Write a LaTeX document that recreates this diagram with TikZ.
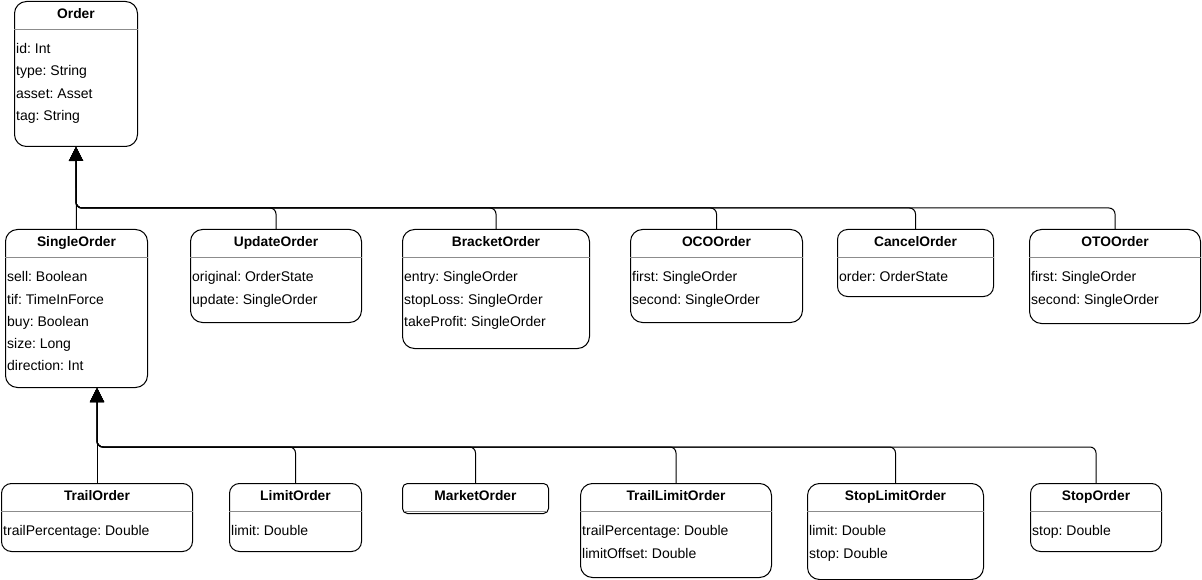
\documentclass[tikz,border=0pt]{standalone}
\usepackage{fontspec}
\setmainfont{Liberation Sans}
\frenchspacing
\usetikzlibrary{arrows.meta, positioning}
\tikzstyle{classbox} = [rectangle, rounded corners=12pt, draw=black, line width=1pt, anchor=north west, inner sep=0pt, fill=white]
\tikzstyle{classtitle} = [anchor=base, inner sep=0pt, font=\bfseries\fontsize{13.8}{16}\selectfont]
\tikzstyle{attr} = [anchor=base west, inner sep=0pt, font=\fontsize{14}{16}\selectfont]
\tikzstyle{divider} = [draw=black!45, line width=0.8pt]
\tikzstyle{inherit} = [line width=1pt, rounded corners=6pt, -{Triangle[length=14pt,width=14pt]}]
% title and divider of a class box
\newcommand{\classhead}[2]{%
  \node (#1-title) [classtitle] at ([yshift=-17.7pt]#1.north) {#2};
  \draw [divider] ([yshift=-28pt]#1.north west) -- ([yshift=-28pt]#1.north east);
}
% attribute lines of a class box
\newcommand{\classattrs}[2]{%
  \foreach \attrtext [count=\k] in {#2}
    \node (#1-\k) [attr] at ([xshift=2pt, yshift={-52.7pt-22.3pt*(\k-1)}]#1.north west) {\attrtext};
}

\begin{document}
\begin{tikzpicture}[x=1pt, y=-1pt]
  \fill[white] (0,0) rectangle (1202,580);
  \useasboundingbox (0,0) rectangle (1202,580);
  % base class
    \node (order) [classbox, minimum width=123pt, minimum height=145pt] at (14,1) {};
    \classhead{order}{Order}
    \classattrs{order}{id: Int, type: String, asset: Asset, tag: String}
  % first level
    \node (single) [classbox, minimum width=142pt, minimum height=158pt] at (5,229) {};
    \classhead{single}{SingleOrder}
    \classattrs{single}{sell: Boolean, tif: TimeInForce, buy: Boolean, size: Long, direction: Int}
    \node (update) [classbox, minimum width=171pt, minimum height=93pt] at (190,229) {};
    \classhead{update}{UpdateOrder}
    \classattrs{update}{original: OrderState, update: SingleOrder}
    \node (bracket) [classbox, minimum width=187pt, minimum height=119pt] at (402,229) {};
    \classhead{bracket}{BracketOrder}
    \classattrs{bracket}{entry: SingleOrder, stopLoss: SingleOrder, takeProfit: SingleOrder}
    \node (oco) [classbox, minimum width=172pt, minimum height=93pt] at (630,229) {};
    \classhead{oco}{OCOOrder}
    \classattrs{oco}{first: SingleOrder, second: SingleOrder}
    \node (cancel) [classbox, rounded corners=10pt, minimum width=156pt, minimum height=67pt] at (837,229) {};
    \classhead{cancel}{CancelOrder}
    \classattrs{cancel}{order: OrderState}
    \node (oto) [classbox, minimum width=171pt, minimum height=94pt] at (1029,229) {};
    \classhead{oto}{OTOOrder}
    \classattrs{oto}{first: SingleOrder, second: SingleOrder}
  % second level
    \node (trail) [classbox, rounded corners=10pt, minimum width=191pt, minimum height=68pt] at (1,483) {};
    \classhead{trail}{TrailOrder}
    \classattrs{trail}{trailPercentage: Double}
    \node (limit) [classbox, rounded corners=10pt, minimum width=132pt, minimum height=68pt] at (229,483) {};
    \classhead{limit}{LimitOrder}
    \classattrs{limit}{limit: Double}
    \node (market) [classbox, rounded corners=5pt, minimum width=146pt, minimum height=30pt] at (402,483) {};
    \node (market-title) [classtitle] at ([yshift=-17.7pt]market.north) {MarketOrder};
    \draw [divider] ([xshift=2pt, yshift=-28pt]market.north west) -- ([xshift=-2pt, yshift=-28pt]market.north east);
    \node (traillimit) [classbox, minimum width=191pt, minimum height=94pt] at (580,483) {};
    \classhead{traillimit}{TrailLimitOrder}
    \classattrs{traillimit}{trailPercentage: Double, limitOffset: Double}
    \node (stoplimit) [classbox, minimum width=176pt, minimum height=96pt] at (807,483) {};
    \classhead{stoplimit}{StopLimitOrder}
    \classattrs{stoplimit}{limit: Double, stop: Double}
    \node (stoporder) [classbox, rounded corners=10pt, minimum width=131pt, minimum height=68pt] at (1030,483) {};
    \classhead{stoporder}{StopOrder}
    \classattrs{stoporder}{stop: Double}
  % inheritance arrows
    \draw [inherit] (single.north) -- (order.south);
    \draw [inherit] (update.north) -- ++(0,-21) -| (order.south);
    \draw [inherit] (bracket.north) -- ++(0,-21) -| (order.south);
    \draw [inherit] (oco.north) -- ++(0,-21) -| (order.south);
    \draw [inherit] (cancel.north) -- ++(0,-21) -| (order.south);
    \draw [inherit] (oto.north) -- ++(0,-21) -| (order.south);
    \draw [inherit] (trail.north) -- (trail.north |- single.south);
    \draw [inherit] (limit.north) -- ++(0,-36) -| (trail.north |- single.south);
    \draw [inherit] (market.north) -- ++(0,-36) -| (trail.north |- single.south);
    \draw [inherit] (traillimit.north) -- ++(0,-36) -| (trail.north |- single.south);
    \draw [inherit] (stoplimit.north) -- ++(0,-36) -| (trail.north |- single.south);
    \draw [inherit] (stoporder.north) -- ++(0,-36) -| (trail.north |- single.south);
  \end{tikzpicture}
\end{document}
